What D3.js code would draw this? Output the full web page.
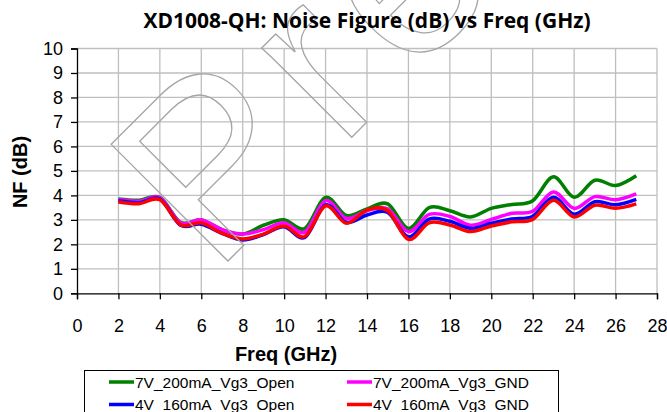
<!DOCTYPE html>
<html>
<head>
<meta charset="utf-8">
<script src="https://cdn.jsdelivr.net/npm/d3@7"></script>
<style>
  html, body { margin: 0; padding: 0; background: #fff; }
  #chart { width: 667px; height: 412px; }
</style>
</head>
<body>
<div id="chart"></div>
<script>
// Chart data
const freqGHz = [2, 3, 4, 5, 6, 7, 8, 9, 10, 11, 12, 13, 14, 15, 16, 17, 18, 19, 20, 21, 22, 23, 24, 25, 26, 27];
const nf7vOpen = [3.85, 3.8, 3.92, 2.9, 3.0, 2.6, 2.42, 2.78, 3.0, 2.65, 3.92, 3.18, 3.45, 3.65, 2.65, 3.5, 3.37, 3.12, 3.47, 3.63, 3.78, 4.76, 3.92, 4.62, 4.4, 4.8];
const nf7vGnd = [3.83, 3.76, 3.9, 2.88, 3.0, 2.6, 2.42, 2.6, 2.88, 2.5, 3.78, 3.06, 3.37, 3.45, 2.52, 3.22, 3.14, 2.78, 3.02, 3.27, 3.35, 4.14, 3.47, 3.95, 3.82, 4.06];
const nf4vOpen = [3.78, 3.7, 3.85, 2.78, 2.82, 2.45, 2.18, 2.4, 2.72, 2.28, 3.61, 2.9, 3.2, 3.3, 2.3, 3.03, 2.94, 2.65, 2.86, 3.04, 3.15, 3.92, 3.23, 3.74, 3.62, 3.84];
const nf4vGnd = [3.73, 3.66, 3.82, 2.8, 2.88, 2.45, 2.22, 2.42, 2.75, 2.32, 3.57, 2.86, 3.4, 3.37, 2.2, 2.88, 2.79, 2.52, 2.75, 2.92, 3.02, 3.8, 3.12, 3.6, 3.47, 3.65];
const seriesNames = ['7V_200mA_Vg3_Open', '7V_200mA_Vg3_GND', '4V_160mA_Vg3_Open', '4V_160mA_Vg3_GND'];
const seriesColors = ['#008000', '#ff00ff', '#0000ff', '#ff0000'];
const xTicks = [0, 2, 4, 6, 8, 10, 12, 14, 16, 18, 20, 22, 24, 26, 28];
const yTicks = [0, 1, 2, 3, 4, 5, 6, 7, 8, 9, 10];

function renderNoiseFigure(containerId) {
    // ============================================================================
    // STEP 1: SETUP
    // ============================================================================
    const container = d3.select(`#${containerId}`);
    container.selectAll('*').remove();

    const W = 667, H = 412;
    const margin = { top: 48.5, right: 10, bottom: 118.7, left: 77 };
    const width = W - margin.left - margin.right;
    const height = H - margin.top - margin.bottom;

    const svg = container.append('svg')
        .attr('width', W)
        .attr('height', H);

    const g = svg.append('g')
        .attr('transform', `translate(${margin.left},${margin.top})`);

    // ============================================================================
    // STEP 2: SCALES
    // ============================================================================
    const xScale = d3.scaleLinear().domain([0, 28]).range([0, width]);
    const yScale = d3.scaleLinear().domain([0, 10]).range([height, 0]);

    // ============================================================================
    // STEP 3: GRID
    // ============================================================================
    g.append('g')
        .selectAll('line')
        .data(yTicks.slice(1))
        .enter()
        .append('line')
        .attr('x1', 0)
        .attr('x2', width)
        .attr('y1', d => yScale(d))
        .attr('y2', d => yScale(d))
        .attr('stroke', '#bfbfbf')
        .attr('stroke-width', 1.3);

    g.append('g')
        .selectAll('line')
        .data(xTicks.slice(1))
        .enter()
        .append('line')
        .attr('x1', d => xScale(d))
        .attr('x2', d => xScale(d))
        .attr('y1', 0)
        .attr('y2', height)
        .attr('stroke', '#bfbfbf')
        .attr('stroke-width', 1.3);

    // ============================================================================
    // STEP 4: WATERMARK (outlined text, runs off the top edge like the original)
    // ============================================================================
    svg.append('text')
        .attr('transform', 'translate(214,275) rotate(-45)')
        .attr('font-family', 'Liberation Sans, Arial, sans-serif')
        .attr('font-size', 240)
        .attr('letter-spacing', 18)
        .attr('fill', 'none')
        .attr('stroke', '#a6a6a6')
        .attr('stroke-width', 1.3)
        .text('Pre');

    // ============================================================================
    // STEP 5: AXES
    // ============================================================================
    const xAxis = g.append('g')
        .attr('transform', `translate(0,${height})`)
        .call(d3.axisBottom(xScale).tickValues(xTicks).tickSize(6).tickPadding(20));
    const yAxis = g.append('g')
        .call(d3.axisLeft(yScale).tickValues(yTicks).tickSize(6).tickPadding(8));

    [xAxis, yAxis].forEach(ax => {
        ax.select('.domain').attr('stroke', '#000').attr('stroke-width', 1.3);
        ax.selectAll('.tick line').attr('stroke', '#000').attr('stroke-width', 1.3);
        ax.selectAll('text')
            .attr('fill', '#000')
            .style('font-family', 'Liberation Sans, Arial, sans-serif')
            .style('font-size', '18px');
    });

    // ============================================================================
    // STEP 6: LINES
    // ============================================================================
    const allSeries = [nf7vOpen, nf7vGnd, nf4vOpen, nf4vGnd];
    const line = d3.line()
        .x((d, i) => xScale(freqGHz[i]))
        .y(d => yScale(d))
        .curve(d3.curveCardinal);

    g.selectAll('.series')
        .data(allSeries)
        .enter()
        .append('path')
        .attr('class', 'series')
        .attr('d', d => line(d))
        .attr('fill', 'none')
        .attr('stroke', (d, i) => seriesColors[i])
        .attr('stroke-width', 3.5)
        .attr('stroke-linejoin', 'round');

    // ============================================================================
    // STEP 7: TITLES
    // ============================================================================
    svg.append('text')
        .attr('x', 367)
        .attr('y', 28)
        .attr('text-anchor', 'middle')
        .style('font-family', '"Open Sans", sans-serif')
        .style('font-weight', 'bold')
        .style('font-size', '21px')
        .text('XD1008-QH: Noise Figure (dB) vs Freq (GHz)');

    svg.append('text')
        .attr('transform', 'translate(27,172) rotate(-90)')
        .attr('text-anchor', 'middle')
        .style('font-family', 'Liberation Sans, Arial, sans-serif')
        .style('font-weight', 'bold')
        .style('font-size', '20px')
        .text('NF (dB)');

    svg.append('text')
        .attr('x', 286)
        .attr('y', 361)
        .attr('text-anchor', 'middle')
        .style('font-family', 'Liberation Sans, Arial, sans-serif')
        .style('font-weight', 'bold')
        .style('font-size', '20px')
        .text('Freq (GHz)');

    // ============================================================================
    // STEP 8: LEGEND
    // ============================================================================
    svg.append('rect')
        .attr('x', 84.5)
        .attr('y', 370.5)
        .attr('width', 474)
        .attr('height', 60)
        .attr('fill', '#fff')
        .attr('stroke', '#000')
        .attr('stroke-width', 1);

    const legendPos = [[109, 382], [347, 382], [109, 404.5], [347, 404.5]];
    const items = svg.selectAll('.legend-item')
        .data(seriesNames)
        .enter()
        .append('g')
        .attr('class', 'legend-item')
        .attr('transform', (d, i) => `translate(${legendPos[i][0]},${legendPos[i][1]})`);

    items.append('line')
        .attr('x1', 0)
        .attr('x2', 25)
        .attr('stroke', (d, i) => seriesColors[i])
        .attr('stroke-width', 3.5);

    items.append('text')
        .attr('x', 26)
        .attr('y', 5.5)
        .style('font-family', 'Liberation Sans, Arial, sans-serif')
        .style('font-size', '15.5px')
        .text(d => d);
}

renderNoiseFigure('chart');
</script>
</body>
</html>
